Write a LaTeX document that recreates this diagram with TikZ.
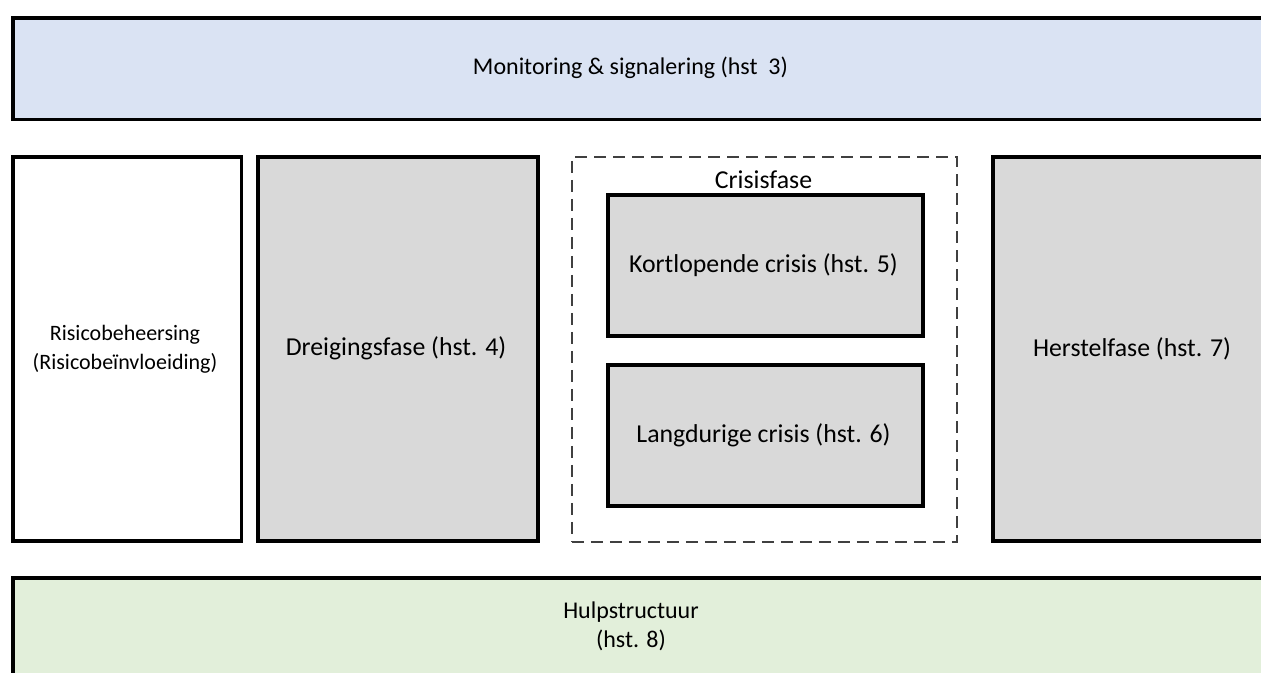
\documentclass[tikz,border=0pt]{standalone}
\usepackage{fontspec}
\setmainfont{Carlito}
\definecolor{topblue}{HTML}{DAE3F3}
\definecolor{boxgray}{HTML}{D9D9D9}
\definecolor{botgreen}{HTML}{E2EFDA}
\definecolor{dashgray}{HTML}{404040}
\begin{document}
\begin{tikzpicture}[x=1pt,y=-1pt,
  box/.style={draw=black,line width=3.6pt,rectangle,anchor=north west,inner sep=0pt},
  dbox/.style={draw=dashgray,line width=1.8pt,dash pattern=on 12pt off 7pt,rectangle,anchor=north west,inner sep=0pt},
  txt/.style={font=\fontsize{24}{29}\selectfont,align=center,inner sep=0pt},
  btxt/.style={font=\fontsize{25.8}{31}\selectfont,align=center,inner sep=0pt},
  stxt/.style={font=\fontsize{22}{28.5}\selectfont,align=center,inner sep=0pt}]
\useasboundingbox (0,0) rectangle (1261,672);
\clip (0,0) rectangle (1261,672);
% top band
\node[box,fill=topblue,minimum width=1300pt,minimum height=101.5pt] (top) at (11,16) {};
\node[txt] (toptxt) at (630.5,68) {Monitoring \& signalering (hst\ \ 3)};
% row
\node[box,fill=white,minimum width=228.5pt,minimum height=384pt] (risico) at (11,155) {};
\node[stxt] (risicotxt) at (125,349) {Risicobeheersing\\(Risicobeïnvloeiding)};
\node[box,fill=boxgray,minimum width=280pt,minimum height=384pt] (dreig) at (256,155) {};
\node[btxt] (dreigtxt) at (396,348) {Dreigingsfase (hst. 4)};
\node[dbox,minimum width=385pt,minimum height=385pt] (crisis) at (571,156) {};
\node[btxt] (crisistxt) at (763.5,180) {Crisisfase};
\node[box,fill=boxgray,minimum width=315pt,minimum height=141pt] (kort) at (606,193) {};
\node[btxt] (korttxt) at (763.5,265) {Kortlopende crisis (hst. 5)};
\node[box,fill=boxgray,minimum width=315pt,minimum height=141pt] (lang) at (606,363) {};
\node[btxt] (langtxt) at (763.5,435) {Langdurige crisis (hst. 6)};
\node[box,fill=boxgray,minimum width=320pt,minimum height=384pt] (herstel) at (991,155) {};
\node[btxt] (hersteltxt) at (1132,349) {Herstelfase (hst. 7)};
% bottom band
\node[box,fill=botgreen,minimum width=1300pt,minimum height=150pt] (bot) at (11,576) {};
\node[txt] (bottxt) at (631,626) {Hulpstructuur\\(hst. 8)};
\end{tikzpicture}
\end{document}
